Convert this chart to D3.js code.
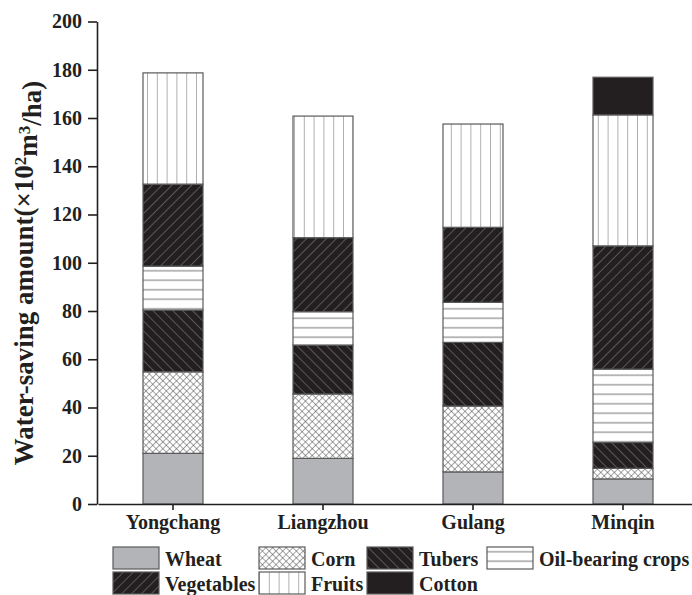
<!DOCTYPE html>
<html>
<head>
<meta charset="utf-8">
<script src="https://cdn.jsdelivr.net/npm/d3@7"></script>
<style>
    html, body { margin: 0; padding: 0; background: #fff; }
    svg { display: block; }
    text { font-family: "Liberation Serif", "Times New Roman", serif; font-weight: bold; fill: #231f20; }
</style>
</head>
<body>
<div id="chart"></div>
<script>
(function(){
    var categories = ["Yongchang", "Liangzhou", "Gulang", "Minqin"];
    var crops = ["Wheat", "Corn", "Tubers", "Oil-bearing crops", "Vegetables", "Fruits", "Cotton"];
    var wheat = [21.0, 18.9, 13.3, 10.4];
    var corn = [33.8, 26.7, 27.3, 4.4];
    var tubers = [25.6, 20.3, 26.4, 10.7];
    var oilCrops = [18.2, 13.8, 16.6, 30.4];
    var vegetables = [34.0, 30.7, 31.1, 51.1];
    var fruits = [46.1, 50.4, 42.8, 54.3];
    var cotton = [0, 0, 0, 15.6];
    var yTicks = [0, 20, 40, 60, 80, 100, 120, 140, 160, 180, 200];

    var width = 692, height = 595;
    var black = "#231f20";

    var svg = d3.select("#chart").append("svg")
        .attr("width", width)
        .attr("height", height);

    // hatch patterns, one per crop
    var defs = svg.append("defs");
    function addPattern(id, size, bg, lines, color, sw, rotate) {
        var p = defs.append("pattern")
            .attr("id", id)
            .attr("patternUnits", "userSpaceOnUse")
            .attr("width", size)
            .attr("height", size);
        if (rotate) p.attr("patternTransform", "rotate(" + rotate + ")");
        p.append("rect").attr("width", size).attr("height", size).attr("fill", bg);
        lines.forEach(function (l) {
            p.append("line")
                .attr("x1", l[0]).attr("y1", l[1]).attr("x2", l[2]).attr("y2", l[3])
                .attr("stroke", color)
                .attr("stroke-width", sw);
        });
    }
    addPattern("p-wheat", 10, "#b3b4b7", [], "none", 0);
    addPattern("p-corn", 4.8, "#fff", [[0, 0, 0, 4.8], [0, 0, 4.8, 0]], "#4a4a4a", 1, 45);
    addPattern("p-tubers", 7, black, [[0, 0, 0, 7]], "#9a9a9a", 0.9, -45);
    addPattern("p-oil", 9.5, "#fff", [[0, 4.75, 9.5, 4.75]], "#8c8c8c", 1.2, 0);
    addPattern("p-veg", 7, black, [[0, 0, 0, 7]], "#9a9a9a", 0.9, 45);
    addPattern("p-fruits", 9.8, "#fff", [[0, 0, 0, 9.8]], "#6e6e6e", 1.1, 0);
    addPattern("p-cotton", 10, black, [], "none", 0);
    var fills = ["url(#p-wheat)", "url(#p-corn)", "url(#p-tubers)", "url(#p-oil)",
                 "url(#p-veg)", "url(#p-fruits)", "url(#p-cotton)"];

    var series = [wheat, corn, tubers, oilCrops, vegetables, fruits, cotton];
    var rows = categories.map(function (c, i) {
        var obj = { name: c };
        crops.forEach(function (k, j) { obj[k] = series[j][i]; });
        return obj;
    });
    var stacked = d3.stack().keys(crops)(rows);

    var x = d3.scaleBand()
        .domain(categories)
        .range([98, 698])
        .paddingInner(0.6)
        .paddingOuter(0.3);
    var y = d3.scaleLinear()
        .domain([0, 200])
        .range([504, 21.5]);

    var layers = svg.append("g").attr("class", "bars")
        .selectAll("g")
        .data(stacked)
        .enter().append("g")
        .attr("fill", function (d, i) { return fills[i]; });

    layers.selectAll("rect")
        .data(function (d) { return d.filter(function (e) { return e[1] - e[0] > 0; }); })
        .enter().append("rect")
        .attr("x", function (d) { return x(d.data.name); })
        .attr("y", function (d) { return y(d[1]); })
        .attr("width", x.bandwidth())
        .attr("height", function (d) { return y(d[0]) - y(d[1]); })
        .attr("stroke", "#5a5a5a")
        .attr("stroke-width", 1.2);

    // axes
    var yAxis = svg.append("g")
        .attr("transform", "translate(97,0)")
        .call(d3.axisLeft(y).tickValues(yTicks).tickSize(9).tickSizeOuter(0).tickPadding(6));
    yAxis.selectAll("text").style("font-size", "20px");

    var xAxis = svg.append("g")
        .attr("transform", "translate(0,504)")
        .call(d3.axisBottom(x).tickSize(6).tickSizeOuter(0).tickPadding(5));
    xAxis.selectAll("text").style("font-size", "20px");

    svg.selectAll(".domain, .tick line")
        .attr("stroke", "#231f20")
        .attr("stroke-width", 1.6);

    var title = svg.append("text")
        .attr("transform", "translate(33,273) rotate(-90)")
        .attr("text-anchor", "middle")
        .style("font-size", "27px");
    title.append("tspan").text("Water-saving amount(\u00d710");
    title.append("tspan").attr("dy", "-0.42em").style("font-size", "17px").text("2");
    title.append("tspan").attr("dy", "0.42em").text("m");
    title.append("tspan").attr("dy", "-0.42em").style("font-size", "17px").text("3");
    title.append("tspan").attr("dy", "0.42em").text("/ha)");

    // legend, two rows
    var legendX = [113, 259, 367, 487];
    var legendY = [547, 572];
    var legend = svg.append("g").attr("class", "legend")
        .selectAll("g")
        .data(crops)
        .enter().append("g")
        .attr("transform", function (d, i) {
            return "translate(" + legendX[i % 4] + "," + legendY[Math.floor(i / 4)] + ")";
        });
    legend.append("rect")
        .attr("width", 46)
        .attr("height", 22)
        .attr("fill", function (d, i) { return fills[i]; })
        .attr("stroke", "#5a5a5a")
        .attr("stroke-width", 1.2);
    legend.append("text")
        .attr("x", 52)
        .attr("y", 19)
        .style("font-size", "20px")
        .text(function (d) { return d; });
})();
</script>
</body>
</html>
